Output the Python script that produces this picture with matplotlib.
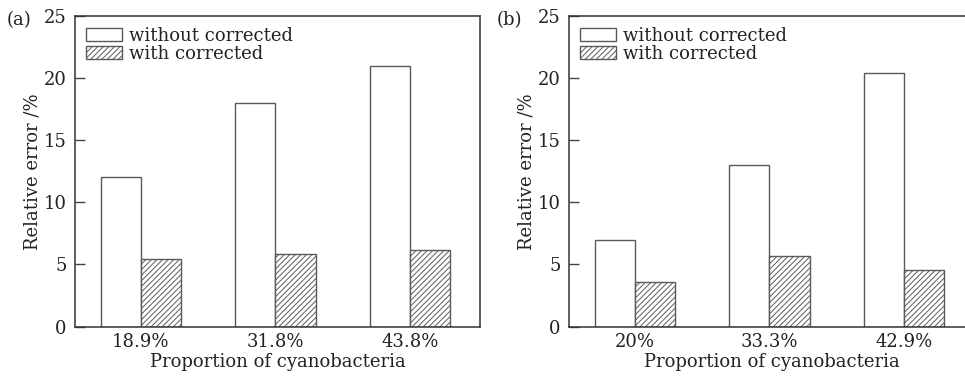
import matplotlib
matplotlib.use("Agg")
import matplotlib.pyplot as plt
import numpy as np

plt.rcParams['font.family'] = ['DejaVu Serif']
plt.rcParams['hatch.color'] = '#555555'
plt.rcParams['hatch.linewidth'] = 0.7
plt.rcParams['mathtext.fontset'] = 'dejavuserif'

cats_a = ["18.9%", "31.8%", "43.8%"]
without_a = [12.0, 18.0, 21.0]
with_a = [5.45, 5.8, 6.15]

cats_b = ["20%", "33.3%", "42.9%"]
without_b = [7.0, 13.0, 20.4]
with_b = [3.55, 5.65, 4.55]

yticks = [0, 5, 10, 15, 20, 25]

fig = plt.figure(figsize=(9.65, 3.79), dpi=100)
W, H = 965, 379
def ax_at(l, r, t, b):
    return fig.add_axes([l / W, 1 - b / H, (r - l) / W, (b - t) / H])

ax_a = ax_at(75, 480, 16, 326.5)
ax_b = ax_at(569, 974, 16, 326.5)

fs = 13
bw = 0.30
edge = '#5a5a5a'
for ax, cats, wo, wi, lab, lx in [(ax_a, cats_a, without_a, with_a, "(a)", 7),
                                   (ax_b, cats_b, without_b, with_b, "(b)", 497)]:
    x = np.arange(len(cats))
    ax.bar(x - bw / 2, wo, bw, facecolor='white', edgecolor=edge, linewidth=1.0,
           label='without corrected')
    ax.bar(x + bw / 2, wi, bw, facecolor='white', edgecolor=edge, linewidth=1.0,
           hatch='//////', label='with corrected')
    ax.set_xlim(-0.49, 2.52)
    ax.set_ylim(0, 25)
    ax.set_yticks(yticks)
    ax.set_xticks(x)
    ax.set_xticklabels(cats, fontsize=fs, color='#222222')
    ax.tick_params(axis='x', length=0, pad=5)
    ax.tick_params(axis='y', direction='in', length=7, width=1, colors='#444444',
                   labelsize=fs, labelcolor='#222222', pad=6)
    for s in ax.spines.values():
        s.set_color('#333333')
        s.set_linewidth(1.1)
    ax.set_xlabel("Proportion of cyanobacteria", fontsize=fs, color='#222222', labelpad=1)
    ax.set_ylabel("Relative error /%", fontsize=fs, color='#222222', labelpad=1.5)
    leg = ax.legend(loc='upper left', bbox_to_anchor=(0.0, 1.0), frameon=False,
                    fontsize=fs, handlelength=2.0, handleheight=0.7,
                    handletextpad=0.4, labelspacing=0.0, borderaxespad=0.2)
    for t in leg.get_texts():
        t.set_color('#222222')
    fig.text(lx / W, 1 - 20 / H, lab, fontsize=fs, color='#222222',
             ha='left', va='center')

fig.savefig("out.png", dpi=100)
